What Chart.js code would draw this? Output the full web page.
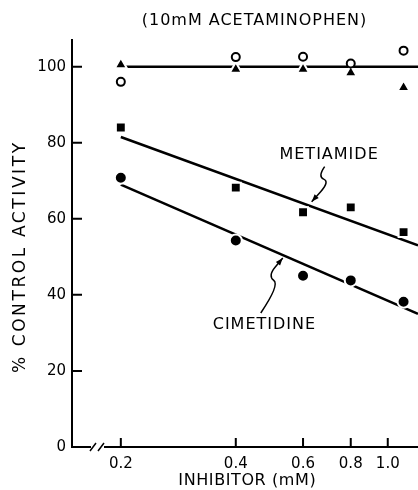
<!DOCTYPE html>
<html lang="en">
  <head>
    <meta charset="UTF-8" />
    <title>Acetaminophen inhibition</title>
    <script src="https://cdn.jsdelivr.net/npm/chart.js@4.4.0/dist/chart.umd.min.js"></script>
    <style>
      html, body { margin: 0; padding: 0; background: #fff; }
    </style>
  </head>
  <body>
    <canvas id="chart1" width="418" height="490"></canvas>
    <script>
      // data
      const doses = [0.2, 0.4, 0.6, 0.8, 1.1];
      const controlOpen = [96, 102.5, 102.6, 100.8, 104.2];
      const controlTri = [100.5, 99.3, 99.3, 98.4, 94.5];
      const metiamide = [84, 68.2, 61.7, 63, 56.5];
      const cimetidine = [70.8, 54.3, 45, 43.8, 38.2];
      const fitX = [0.2, 1.2];
      const controlFit = [100, 100];
      const metiamideFit = [81.5, 53];
      const cimetidineFit = [69, 35];
      const xTicks = [0.2, 0.4, 0.6, 0.8, 1.0];
      const yTicks = [0, 20, 40, 60, 80, 100];

      const FONT = "DejaVu Sans";
      const pts = (xs, ys) => xs.map((x, i) => ({ x: x, y: ys[i] }));

      function markers(ys, style, r, fill, border, bw) {
        return {
          type: "scatter",
          data: pts(doses, ys),
          pointStyle: style,
          pointRadius: r,
          backgroundColor: fill,
          borderColor: border,
          borderWidth: bw,
          showLine: false,
        };
      }
      function fitLine(ys) {
        return {
          type: "line",
          data: pts(fitX, ys),
          borderColor: "#000",
          borderWidth: 2.5,
          pointRadius: 0,
          fill: false,
        };
      }

      // smooth curve through points, arrow head at the last one
      function squiggle(ctx, p) {
        ctx.beginPath();
        ctx.moveTo(p[0][0], p[0][1]);
        for (let i = 1; i < p.length - 1; i++) {
          const mx = (p[i][0] + p[i + 1][0]) / 2, my = (p[i][1] + p[i + 1][1]) / 2;
          ctx.quadraticCurveTo(p[i][0], p[i][1], mx, my);
        }
        const a = p[p.length - 2], b = p[p.length - 1];
        ctx.lineTo(b[0], b[1]);
        ctx.stroke();
        const ang = Math.atan2(b[1] - a[1], b[0] - a[0]);
        ctx.beginPath();
        ctx.moveTo(b[0], b[1]);
        ctx.lineTo(b[0] - 8 * Math.cos(ang - 0.35), b[1] - 8 * Math.sin(ang - 0.35));
        ctx.lineTo(b[0] - 8 * Math.cos(ang + 0.35), b[1] - 8 * Math.sin(ang + 0.35));
        ctx.closePath();
        ctx.fill();
      }

      function spaced(ctx, text, x, y, size, spacing) {
        ctx.font = size + "px " + FONT;
        ctx.letterSpacing = spacing + "px";
        // letterSpacing adds a trailing gap, shift to keep it centred
        ctx.fillText(text, x + spacing / 2, y);
      }

      const decor = {
        id: "decor",
        afterDraw(chart) {
          const ctx = chart.ctx;
          const xs = chart.scales.x, ys = chart.scales.y;
          const area = chart.chartArea;
          ctx.save();
          ctx.strokeStyle = "#000";
          ctx.fillStyle = "#000";
          ctx.lineWidth = 2;
          // x axis with break
          const y0 = area.bottom;
          ctx.beginPath();
          ctx.moveTo(area.left, y0);
          ctx.lineTo(area.left + 19, y0);
          ctx.moveTo(area.left + 32, y0);
          ctx.lineTo(area.right, y0);
          ctx.stroke();
          ctx.lineWidth = 1.5;
          ctx.beginPath();
          ctx.moveTo(area.left + 18, y0 + 4);
          ctx.lineTo(area.left + 24, y0 - 4);
          ctx.moveTo(area.left + 26, y0 + 4);
          ctx.lineTo(area.left + 32, y0 - 4);
          ctx.stroke();
          // inward ticks
          ctx.lineWidth = 2;
          ctx.beginPath();
          xTicks.forEach((v) => {
            const px = xs.getPixelForValue(v);
            ctx.moveTo(px, y0);
            ctx.lineTo(px, y0 - 9);
          });
          yTicks.forEach((v) => {
            if (v === 0) return;
            const py = ys.getPixelForValue(v);
            ctx.moveTo(area.left, py);
            ctx.lineTo(area.left + 10, py);
          });
          ctx.stroke();
          // titles
          ctx.textAlign = "center";
          ctx.textBaseline = "middle";
          spaced(ctx, "(10mM ACETAMINOPHEN)", 254, 21, 16, 1);
          spaced(ctx, "INHIBITOR (mM)", 247, 481, 16, 0.6);
          ctx.save();
          ctx.translate(21, 258);
          ctx.rotate(-Math.PI / 2);
          spaced(ctx, "% CONTROL ACTIVITY", 0, 0, 17, 2.6);
          ctx.restore();
          // labels and arrows
          const P = (x, y) => [xs.getPixelForValue(x), ys.getPixelForValue(y)];
          const m = P(0.70, 76.8);
          spaced(ctx, "METIAMIDE", m[0], m[1], 16, 1);
          const c = P(0.474, 32.1);
          spaced(ctx, "CIMETIDINE", c[0], c[1], 16, 1);
          ctx.letterSpacing = "0px";
          ctx.lineWidth = 1.5;
          const t1 = P(0.632, 64.5);
          squiggle(ctx, [
            [t1[0] + 13, t1[1] - 35],
            [t1[0] + 6, t1[1] - 25],
            [t1[0] + 18, t1[1] - 20],
            [t1[0], t1[1]],
          ]);
          const t2 = P(0.531, 49.7);
          squiggle(ctx, [
            [t2[0] - 22, t2[1] + 55],
            [t2[0] - 3, t2[1] + 27],
            [t2[0] - 15, t2[1] + 18],
            [t2[0], t2[1]],
          ]);
          ctx.restore();
        },
      };

      new Chart(document.getElementById("chart1").getContext("2d"), {
        data: {
          datasets: [
            markers(controlOpen, "circle", 4, "#fff", "#000", 2),
            markers(controlTri, "triangle", 7, "#000", "#fff", 2),
            markers(metiamide, "rect", 7, "#000", "#fff", 2),
            markers(cimetidine, "circle", 6, "#000", "#fff", 2),
            fitLine(controlFit),
            fitLine(metiamideFit),
            fitLine(cimetidineFit),
          ],
        },
        options: {
          responsive: false,
          animation: false,
          layout: { autoPadding: false, padding: { top: 40, right: 0, left: 0, bottom: 0 } },
          plugins: { legend: { display: false }, tooltip: { enabled: false } },
          scales: {
            x: {
              type: "logarithmic",
              min: 0.149,
              max: 1.2,
              afterFit: (s) => {
                s.height = 43;
                s.paddingLeft = 0;
                s.paddingRight = 0;
              },
              afterBuildTicks: (s) => { s.ticks = xTicks.map((v) => ({ value: v })); },
              grid: { display: false, drawTicks: false },
              border: { display: false },
              ticks: {
                color: "#000",
                font: { family: FONT, size: 15 },
                padding: 8,
                autoSkip: false,
                maxRotation: 0,
                callback: (v) => Number(v).toFixed(1),
              },
            },
            y: {
              min: 0,
              max: 107,
              afterFit: (s) => {
                s.width = 72;
                s.paddingTop = 0;
                s.paddingBottom = 0;
              },
              afterBuildTicks: (s) => { s.ticks = yTicks.map((v) => ({ value: v })); },
              grid: { display: false, drawTicks: false },
              border: { display: true, color: "#000", width: 2 },
              ticks: {
                color: "#000",
                font: { family: FONT, size: 15 },
                padding: 6,
              },
            },
          },
        },
        plugins: [decor],
      });
    </script>
  </body>
</html>
